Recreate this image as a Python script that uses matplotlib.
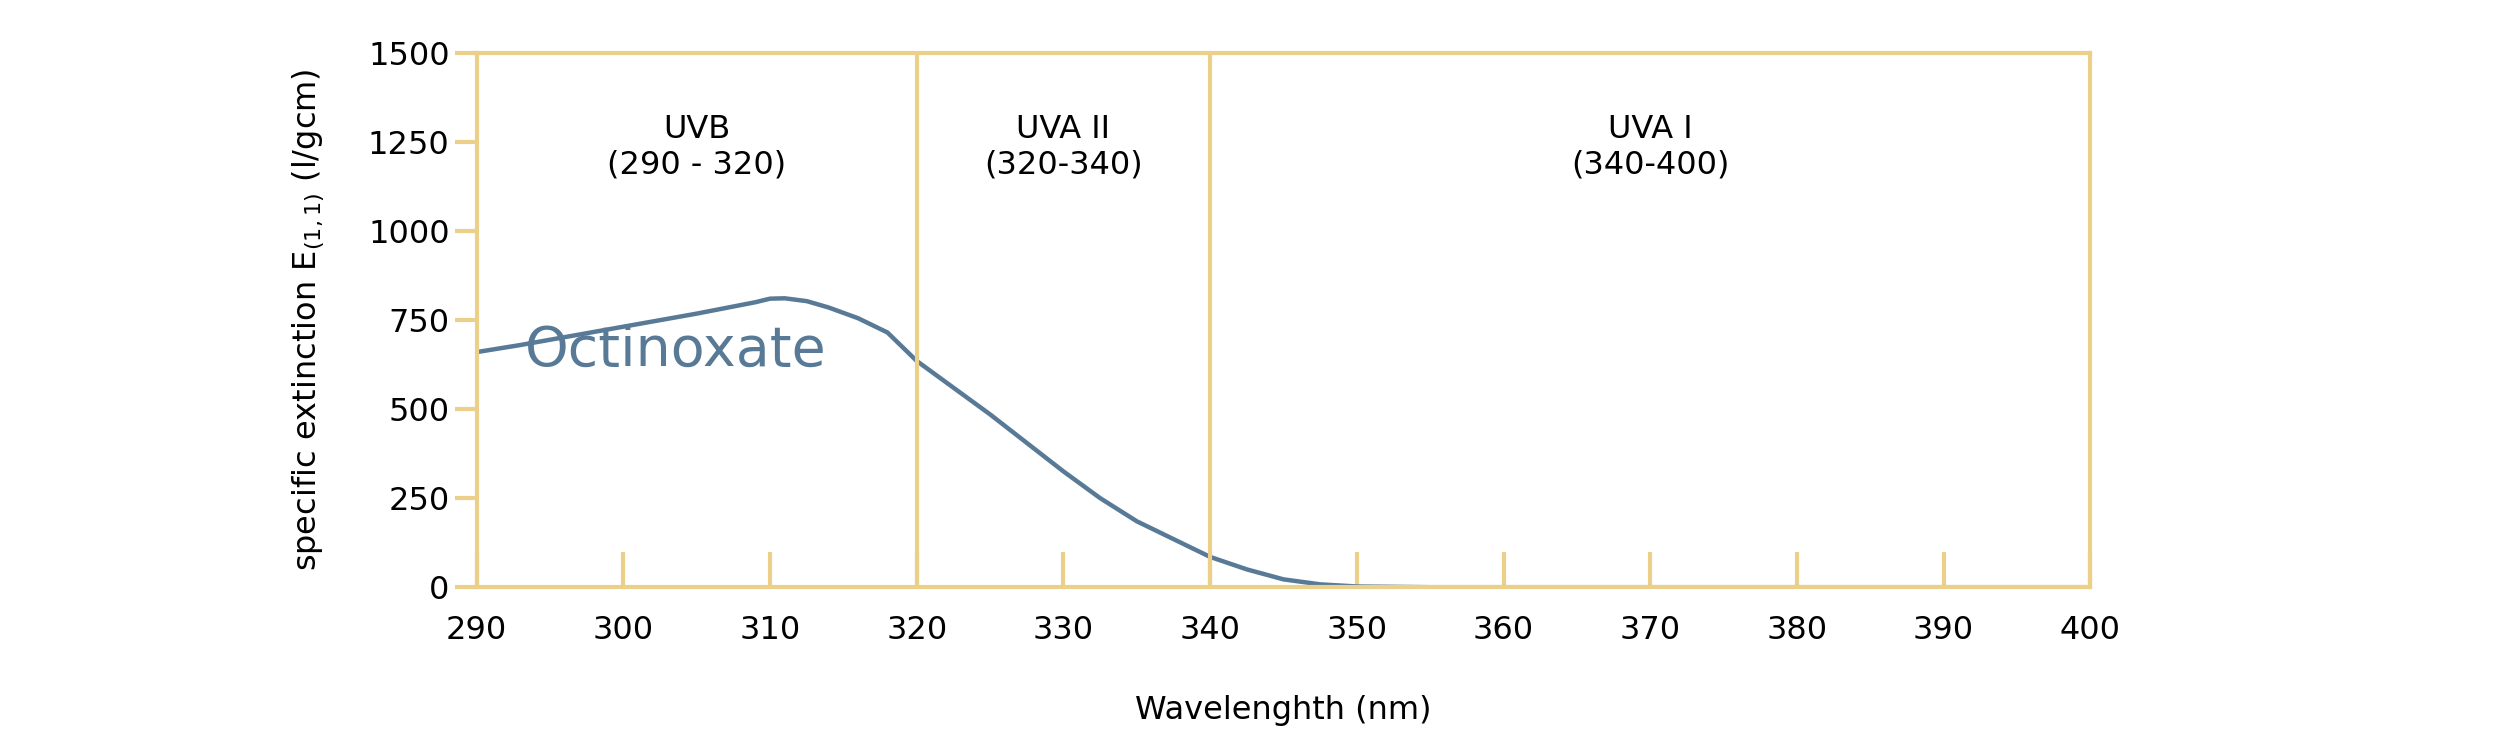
import matplotlib.pyplot as plt

wavelength = [290, 293, 296, 299, 302, 305, 307, 309, 310, 311, 312.5, 314, 316, 318, 320, 322.5, 325, 327.5,
              330, 332.5, 335, 337.5, 340, 342.5, 345, 347.5, 350, 355, 360, 380, 400]
extinction = [660, 680, 702, 724, 746, 768, 784, 800, 810, 811, 803, 785, 755, 715, 635, 560, 485, 405,
              325, 250, 185, 135, 85, 50, 22, 8, 2, 0, 0, 0, 0]
x_ticks = list(range(290, 401, 10))
y_ticks = [0, 250, 500, 750, 1000, 1250, 1500]
bands = [("UVB\n(290 - 320)", 305), ("UVA II\n(320-340)", 330), ("UVA I\n(340-400)", 370)]
band_edges = [320, 340]

gold = "#ecd08a"
blue = "#587a96"

fig = plt.figure(figsize=(25, 7.34), dpi=100)
ax = fig.add_axes([0.1907, 0.2, 0.6454, 0.728])

ax.plot(wavelength, extinction, color=blue, lw=3.2)

for e in band_edges:
    ax.axvline(e, color=gold, lw=3)
for label, xc in bands:
    ax.text(xc, 1235, label, ha="center", va="center", fontsize=23, linespacing=1.2)
ax.text(293.3, 665, "Octinoxate", color=blue, fontsize=40, va="center")

ax.set_xlim(290, 400)
ax.set_ylim(0, 1500)
ax.set_xticks(x_ticks)
ax.set_yticks(y_ticks)
for s in ax.spines.values():
    s.set_color(gold)
    s.set_linewidth(3)
ax.tick_params(axis="x", direction="in", length=25, width=3, color=gold, labelsize=23, pad=20)
ax.tick_params(axis="y", direction="out", length=16, width=3, color=gold, labelsize=23)
ax.set_xlabel("Wavelenghth (nm)", fontsize=23, labelpad=35)
ax.set_ylabel(r"specific extinction E$_{(1,1)}$ (l/gcm)", fontsize=23, labelpad=30)

fig.savefig("out.png")
